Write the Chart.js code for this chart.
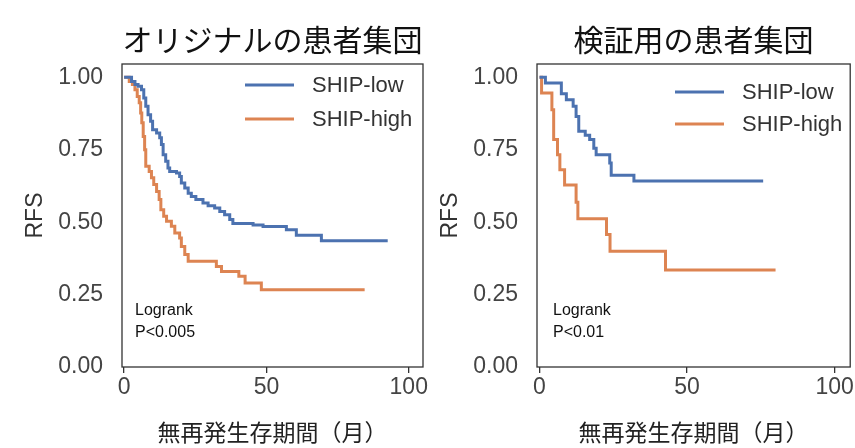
<!DOCTYPE html>
<html>
<head>
<meta charset="utf-8">
<script src="https://cdn.jsdelivr.net/npm/chart.js@4"></script>
<style>
  html, body { margin: 0; padding: 0; background: #fff; width: 855px; height: 448px; overflow: hidden; }
  .panel { position: absolute; top: 0; height: 448px; }
  #leftPanel { left: 0; width: 430px; }
  #rightPanel { left: 430px; width: 425px; }
</style>
</head>
<body>
<div class="panel" id="leftPanel"><canvas id="kmLeft"></canvas></div>
<div class="panel" id="rightPanel"><canvas id="kmRight"></canvas></div>
<script>
// Kaplan-Meier curves (months, survival fraction)
const seriesNames = ["SHIP-low", "SHIP-high"];
const xTickValues = [0, 50, 100];
const yTickValues = [0, 0.25, 0.5, 0.75, 1.0];

// original cohort
const originalLowT = [0, 2.6, 3.8, 4.9, 6.1, 6.9, 7.6, 8.4, 9.3, 10, 11.4, 12.5, 13.1, 13.7, 14.6, 15.4, 16, 18.4, 19.5, 20.1, 21.3, 22.5, 23.6, 25.2, 27.7, 29.5, 31.8, 33.6, 35.3, 37.1, 38.2, 45.3, 48.8, 57, 60.5, 69.3, 92.6];
const originalLowS = [1, 0.986, 0.975, 0.969, 0.957, 0.929, 0.9, 0.871, 0.848, 0.819, 0.808, 0.791, 0.768, 0.733, 0.71, 0.687, 0.675, 0.67, 0.658, 0.635, 0.618, 0.6, 0.589, 0.578, 0.566, 0.557, 0.549, 0.537, 0.526, 0.509, 0.495, 0.49, 0.485, 0.474, 0.455, 0.436, 0.436];
const originalHighT = [0, 1.8, 2.9, 3.8, 4.6, 5.3, 5.8, 6.2, 6.7, 7.2, 7.6, 8.8, 9.6, 10.4, 11.4, 12.3, 12.9, 13.9, 14.9, 16.6, 17.8, 19.5, 20.1, 21.3, 22.5, 32.4, 34.2, 40.3, 42.5, 48.2, 84.5];
const originalHighS = [1, 0.986, 0.975, 0.957, 0.934, 0.912, 0.877, 0.843, 0.796, 0.75, 0.693, 0.675, 0.653, 0.63, 0.606, 0.578, 0.543, 0.52, 0.503, 0.486, 0.463, 0.445, 0.416, 0.388, 0.365, 0.347, 0.33, 0.313, 0.29, 0.267, 0.267];

// validation cohort
const validationLowT = [0, 2, 7.4, 9.1, 11.4, 12.4, 13.3, 15.5, 17, 18.4, 19.2, 23.8, 24.3, 32, 75.8];
const validationLowS = [1, 0.98, 0.943, 0.923, 0.9, 0.865, 0.814, 0.8, 0.785, 0.755, 0.733, 0.704, 0.662, 0.642, 0.642];
const validationHighT = [0, 0.7, 4.2, 4.8, 6.1, 6.9, 8.5, 12.4, 13, 22.7, 23.9, 42.7, 80];
const validationHighS = [1, 0.946, 0.888, 0.785, 0.733, 0.681, 0.628, 0.569, 0.512, 0.457, 0.4, 0.335, 0.335];

const BLUE = "#4C72B0";
const ORANGE = "#DD8452";
const LATIN = "'Liberation Sans', Arial, sans-serif";
const CJK = "'Noto Sans CJK JP', sans-serif";

function toPoints(ts, ss) {
  return ts.map((t, i) => ({ x: t, y: ss[i] }));
}

// box, in-plot legend and logrank note
const panelDecor = {
  id: "panelDecor",
  afterDatasetsDraw(chart, args, o) {
    const ctx = chart.ctx;
    ctx.save();
    const rows = [
      { name: seriesNames[0], color: BLUE, y: o.legendY },
      { name: seriesNames[1], color: ORANGE, y: o.legendY + o.legendGap },
    ];
    rows.forEach((r) => {
      ctx.strokeStyle = r.color;
      ctx.lineWidth = 3;
      ctx.beginPath();
      ctx.moveTo(o.legendX, r.y);
      ctx.lineTo(o.legendX + 49, r.y);
      ctx.stroke();
      ctx.fillStyle = "#333";
      ctx.font = "22px " + LATIN;
      ctx.textBaseline = "middle";
      ctx.textAlign = "left";
      ctx.fillText(r.name, o.legendX + 67, r.y + 1);
    });
    ctx.fillStyle = "#111";
    ctx.font = "16px " + LATIN;
    ctx.fillText("Logrank", o.noteX, 311);
    ctx.fillText(o.pText, o.noteX, 333);
    ctx.restore();
  },
  afterDraw(chart) {
    const a = chart.chartArea;
    const ctx = chart.ctx;
    ctx.save();
    ctx.strokeStyle = "#333";
    ctx.lineWidth = 1.3;
    ctx.strokeRect(a.left, a.top, a.right - a.left, a.bottom - a.top);
    ctx.restore();
  },
};

function makePanel(canvasId, p) {
  const config = {
    type: "line",
    data: {
      datasets: [
        { label: seriesNames[0], data: toPoints(p.lowT, p.lowS), borderColor: BLUE },
        { label: seriesNames[1], data: toPoints(p.highT, p.highS), borderColor: ORANGE },
      ],
    },
    options: {
      responsive: true,
      maintainAspectRatio: false,
      animation: false,
      devicePixelRatio: 1,
      layout: { padding: { left: 0, right: p.rightPad, top: 0, bottom: 0 } },
      elements: {
        line: { stepped: true, borderWidth: 3, tension: 0, borderCapStyle: "butt", borderJoinStyle: "miter" },
        point: { radius: 0, hoverRadius: 0 },
      },
      scales: {
        x: {
          type: "linear",
          min: p.xMin,
          max: p.xMax,
          afterBuildTicks: (s) => { s.ticks = xTickValues.map((v) => ({ value: v })); },
          afterFit: (s) => { s.height = 81; },
          grid: { drawOnChartArea: false, drawTicks: true, tickLength: 6, color: "#333", lineWidth: 1.3 },
          border: { display: false },
          ticks: { font: { family: LATIN, size: 23 }, color: "#444", padding: 1, maxRotation: 0 },
          title: {
            display: true,
            text: "無再発生存期間（月）",
            font: { family: CJK, size: 23 },
            color: "#222",
            padding: { top: 0, bottom: 2 },
          },
        },
        y: {
          type: "linear",
          min: 0,
          max: 1.046,
          afterBuildTicks: (s) => { s.ticks = yTickValues.map((v) => ({ value: v })); },
          afterFit: (s) => { s.width = p.yWidth; },
          grid: { drawOnChartArea: false, drawTicks: false },
          border: { display: false },
          ticks: {
            font: { family: LATIN, size: 23 },
            color: "#444",
            padding: 19,
            callback: (v) => Number(v).toFixed(2),
          },
          title: {
            display: true,
            text: "RFS",
            font: { family: LATIN, size: 23 },
            color: "#333",
            padding: { top: p.yTitlePad, bottom: 0 },
          },
        },
      },
      plugins: {
        legend: { display: false },
        tooltip: { enabled: false },
        title: {
          display: true,
          text: p.title,
          fullSize: false,
          font: { family: CJK, size: 30, weight: "normal" },
          color: "#111",
          padding: { top: 22, bottom: 6 },
        },
        panelDecor: p.decor,
      },
    },
    plugins: [panelDecor],
  };
  return new Chart(document.getElementById(canvasId), config);
}

makePanel("kmLeft", {
  title: "オリジナルの患者集団",
  lowT: originalLowT, lowS: originalLowS,
  highT: originalHighT, highS: originalHighS,
  xMin: -0.75, xMax: 105,
  yWidth: 122, yTitlePad: 22, rightPad: 7,
  decor: { legendX: 245, legendY: 85, legendGap: 34, noteX: 135, pText: "P<0.005" },
});

makePanel("kmRight", {
  title: "検証用の患者集団",
  lowT: validationLowT, lowS: validationLowS,
  highT: validationHighT, highS: validationHighS,
  xMin: -0.85, xMax: 105.3,
  yWidth: 107, yTitlePad: 7, rightPad: 2,
  decor: { legendX: 245, legendY: 92, legendGap: 32, noteX: 123, pText: "P<0.01" },
});
</script>
</body>
</html>
